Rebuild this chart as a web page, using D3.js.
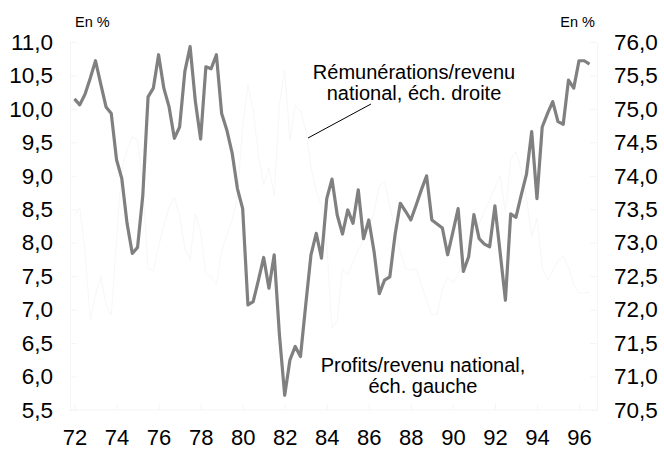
<!DOCTYPE html>
<html>
<head>
<meta charset="utf-8">
<script src="https://cdn.jsdelivr.net/npm/d3@7"></script>
<style>
  body { margin: 0; background: #fff; }
  svg text { font-family: "Liberation Sans", Arial, sans-serif; fill: #000; }
</style>
</head>
<body>
<div id="chart"></div>
<script>
// quarterly series, 1972 Q1 -> 1996 Q3
const startYear = 1972;

// Profits / revenu national (left scale, %)
const profits = [
  10.15, 10.06, 10.22, 10.46, 10.72, 10.37, 10.03, 9.93, 9.24, 8.96,
  8.29, 7.84, 7.93, 8.71, 10.18, 10.31, 10.81, 10.31, 10.03, 9.56,
  9.73, 10.56, 10.93, 10.11, 9.55, 10.63, 10.60, 10.81, 9.93, 9.68,
  9.34, 8.81, 8.51, 7.07, 7.12, 7.44, 7.78, 7.32, 7.82, 6.62,
  5.72, 6.25, 6.45, 6.30, 7.07, 7.82, 8.14, 7.77, 8.66, 8.95,
  8.41, 8.13, 8.49, 8.29, 8.79, 8.06, 8.34, 7.87, 7.24, 7.44,
  7.49, 8.12, 8.59, 8.47, 8.34, 8.56, 8.79, 9.00, 8.34, 8.28,
  8.22, 7.82, 8.16, 8.51, 7.57, 7.79, 8.42, 8.06, 7.98, 7.94,
  8.55, 7.85, 7.14, 8.43, 8.38, 8.71, 9.02, 9.66, 8.66, 9.73,
  9.93, 10.11, 9.81, 9.77, 10.43, 10.31, 10.72, 10.72, 10.67
];

// Rémunérations / revenu national (right scale, %)
const remunerations = [
  73.41, 73.52, 72.89, 71.84, 72.22, 72.50, 72.07, 71.92, 73.04, 74.09,
  74.39, 74.58, 74.54, 73.86, 72.62, 72.58, 72.94, 73.26, 73.53, 73.68,
  73.40, 72.92, 72.74, 73.44, 73.16, 72.55, 72.49, 72.37, 72.88, 73.12,
  73.34, 73.68, 74.76, 75.36, 74.98, 74.31, 73.86, 74.12, 73.71, 75.06,
  75.58, 74.54, 75.06, 74.97, 74.68, 74.13, 73.76, 73.56, 72.97, 71.72,
  71.84, 72.61, 72.52, 72.71, 72.89, 73.04, 73.22, 73.46, 73.85, 73.91,
  73.55, 73.19, 72.86, 72.61, 72.59, 72.61, 72.37, 72.13, 71.93, 71.93,
  72.31, 72.49, 72.40, 72.52, 72.82, 73.04, 73.17, 73.28, 73.47, 73.64,
  73.82, 74.00, 73.46, 74.24, 74.36, 74.09, 73.68, 73.09, 73.37, 72.62,
  72.44, 72.58, 72.73, 72.80, 72.64, 72.37, 72.25, 72.25, 72.26
];

const leftTicks = [5.5, 6.0, 6.5, 7.0, 7.5, 8.0, 8.5, 9.0, 9.5, 10.0, 10.5, 11.0];
const rightTicks = [70.5, 71.0, 71.5, 72.0, 72.5, 73.0, 73.5, 74.0, 74.5, 75.0, 75.5, 76.0];
const yearTicks = [1972, 1974, 1976, 1978, 1980, 1982, 1984, 1986, 1988, 1990, 1992, 1994, 1996];

const W = 664, H = 450;
const plot = { left: 70, right: 597, top: 42, bottom: 410 };

const svg = d3.select("#chart").append("svg")
  .attr("width", W)
  .attr("height", H);

const x = d3.scaleLinear().domain([1972, 1996]).range([74.5, 579]);
const yL = d3.scaleLinear().domain([5.5, 11]).range([plot.bottom, plot.top]);
const yR = d3.scaleLinear().domain([70.5, 76]).range([plot.bottom, plot.top]);

const fr = d3.formatLocale({ decimal: ",", thousands: " ", grouping: [3], currency: ["", " €"] });
const fmt = fr.format(".1f");

const faint = "#f5f5f5";

// left axis
const gL = svg.append("g")
  .attr("transform", `translate(${plot.left},0)`)
  .call(d3.axisLeft(yL).tickValues(leftTicks).tickFormat(fmt)
    .tickSizeInner(-7).tickSizeOuter(0).tickPadding(17));
// right axis
const gR = svg.append("g")
  .attr("transform", `translate(${plot.right},0)`)
  .call(d3.axisRight(yR).tickValues(rightTicks).tickFormat(fmt)
    .tickSizeInner(-7).tickSizeOuter(0).tickPadding(17));
// bottom axis
const gB = svg.append("g")
  .attr("transform", `translate(0,${plot.bottom})`)
  .call(d3.axisBottom(x).tickValues(yearTicks).tickFormat(d => String(d).slice(2))
    .tickSizeInner(-6).tickSizeOuter(0).tickPadding(19));

[gL, gR, gB].forEach(g => {
  g.select(".domain").attr("stroke", faint);
  g.selectAll(".tick line").attr("stroke", faint);
  g.selectAll("text").style("font-size", "22.5px").attr("fill", "#000");
});
gB.selectAll("text").style("font-size", "22px");
gB.select(".domain").attr("d", `M${plot.left},0H${plot.right}`);

// unit labels
svg.append("text").attr("x", 75).attr("y", 27)
  .style("font-size", "14.5px").text("En %");
svg.append("text").attr("x", 595).attr("y", 27).attr("text-anchor", "end")
  .style("font-size", "14.5px").text("En %");

const dateOf = i => startYear + i / 4;

// rémunérations line (almost white in the original)
svg.append("path")
  .datum(remunerations)
  .attr("fill", "none")
  .attr("stroke", "#f7f7f7")
  .attr("stroke-width", 1)
  .attr("d", d3.line().x((d, i) => x(dateOf(i))).y(d => yR(d)));

// profits line
svg.append("path")
  .datum(profits)
  .attr("fill", "none")
  .attr("stroke", "#808080")
  .attr("stroke-width", 3.2)
  .attr("stroke-linejoin", "round")
  .attr("d", d3.line().x((d, i) => x(dateOf(i))).y(d => yL(d)));

// annotations
const ann = svg.append("g").style("font-size", "20px").attr("text-anchor", "middle");
ann.append("text").attr("x", 414).attr("y", 79).text("Rémunérations/revenu");
ann.append("text").attr("x", 414).attr("y", 100).text("national, éch. droite");
ann.append("text").attr("x", 423).attr("y", 372).text("Profits/revenu national,");
ann.append("text").attr("x", 423).attr("y", 393).text("éch. gauche");

svg.append("line")
  .attr("x1", 308).attr("y1", 138)
  .attr("x2", 371).attr("y2", 104)
  .attr("stroke", "#000").attr("stroke-width", 1);
</script>
</body>
</html>
